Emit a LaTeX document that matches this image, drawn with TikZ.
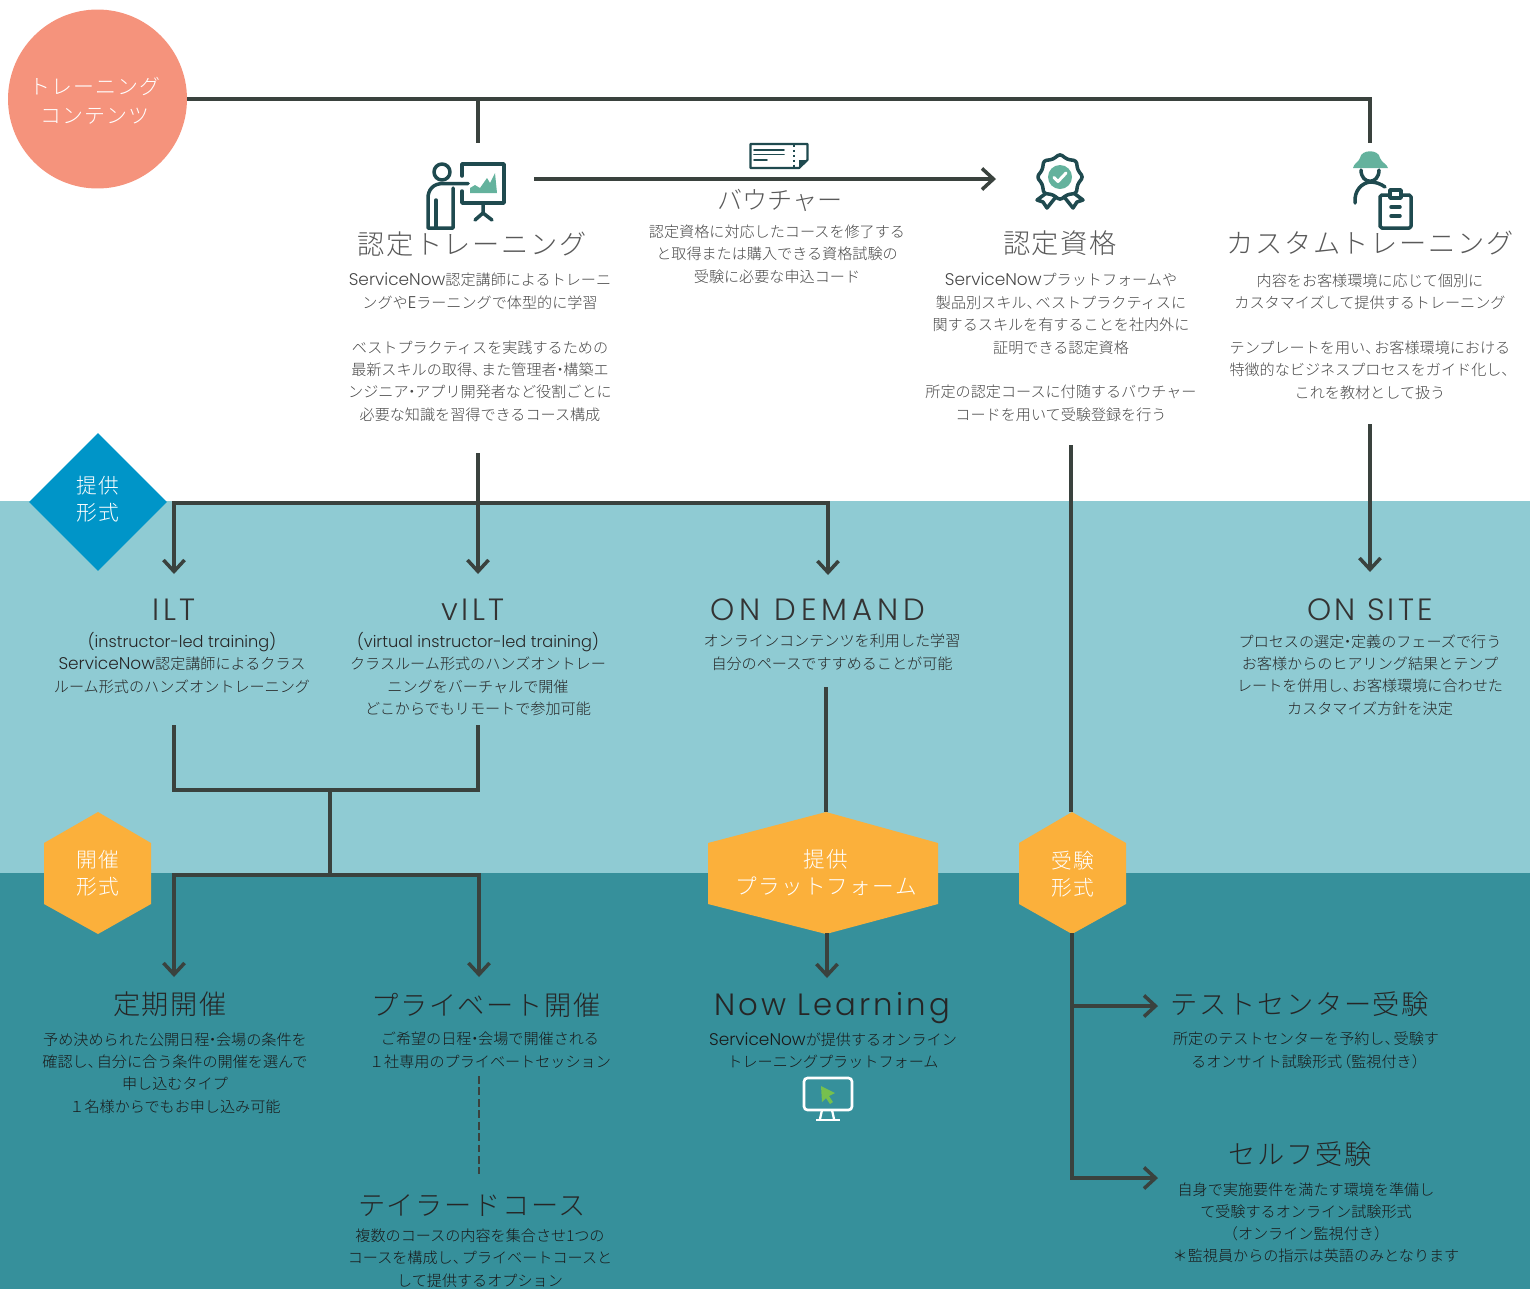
\documentclass[tikz,border=0pt]{standalone}
\usepackage{fontspec}
\setmainfont{Noto Sans CJK JP Light}
\newfontfamily\cjkspaced[LetterSpace=6]{Noto Sans CJK JP Light}
\newfontfamily\ltn[Scale=1.12]{Poppins Light}
\newfontfamily\ltnsmall[Scale=1.07]{Poppins Light}
\newfontfamily\ltntitle[LetterSpace=10]{Poppins Light}
\newfontfamily\ltnwide[LetterSpace=16.6]{Poppins Light}
\newcommand\ten{、\kern-.4em}
\newcommand\naka{\kern-.28em・\kern-.28em}
\newcommand\ptopen{\kern-.4em（}
\newcommand\ptclose{）\kern-.4em}
\usetikzlibrary{arrows.meta,shapes.geometric}
\definecolor{bandlight}{HTML}{8FCBD3}
\definecolor{banddark}{HTML}{36909B}
\definecolor{flowline}{HTML}{3A423E}
\definecolor{salmon}{HTML}{F5937C}
\definecolor{bluemark}{HTML}{0095C8}
\definecolor{orangemark}{HTML}{FBB03B}
\definecolor{icondark}{HTML}{1F4A4F}
\definecolor{icongreen}{HTML}{64B29D}
\definecolor{cursorgreen}{HTML}{76C04E}
\tikzset{
  flow/.style={draw=flowline,line width=2pt},
  flowarrow/.style={flow,-{Straight Barb[length=6.5pt,width=12pt,line width=2pt]}},
  title/.style={font=\cjkspaced\fontsize{15.5}{18}\selectfont,text=#1,inner sep=0pt},
  latintitle/.style={font=\ltntitle\fontsize{17.5}{20}\selectfont,text=#1,inner sep=0pt},
  widetitle/.style={font=\ltnwide\fontsize{17.5}{20}\selectfont,text=#1,inner sep=0pt},
  body/.style={font=\fontsize{8.6}{12.75}\selectfont,text=#1,align=center,inner sep=0pt,yshift=-.5pt},
  marktext/.style={font=\cjkspaced\fontsize{11.8}{15.5}\selectfont,text=white,align=center,inner sep=0pt},
  icon/.style={draw=icondark,line width=2pt,line cap=round,line join=round},
}
\begin{document}
\begin{tikzpicture}[x=0.02cm,y=-0.02cm]
\useasboundingbox (0,0) rectangle (1530,1289);
\fill[bandlight] (0,501) rectangle (1530,873);
\fill[banddark] (0,873) rectangle (1530,1289);

% round and diamond marks
\node[circle,fill=salmon,minimum size=3.58cm,inner sep=0pt] (contents) at (97.5,99) {};
\node[marktext,font=\cjkspaced\fontsize{11.9}{16.5}\selectfont] (contentslabel) at (95,101) {トレーニング\\コンテンツ};
\node[diamond,fill=bluemark,minimum width=2.76cm,minimum height=2.76cm,inner sep=0pt] (teikyo) at (98,502) {};
\node[marktext] (teikyolabel) at (98,499) {提供\\形式};

% hexagons
\fill[orangemark] (98,812) -- (151,843) -- (151,904) -- (98,934) -- (44,904) -- (44,843) -- cycle;
\fill[orangemark] (826,812) -- (938,843) -- (938,904) -- (826,934) -- (708,904) -- (708,843) -- cycle;
\fill[orangemark] (1072,812) -- (1126,843) -- (1126,904) -- (1072,934) -- (1019,904) -- (1019,843) -- cycle;
\node[marktext] (kaisai) at (98,873) {開催\\形式};
\node[marktext,font=\cjkspaced\fontsize{12.3}{15.5}\selectfont] (platform) at (826,872.5) {提供\\プラットフォーム};
\node[marktext] (juken) at (1073,874) {受験\\形式};

% top titles and texts
\node[title=black!65] (nintei) at (472,244) {認定トレーニング};
\node[body=black!72] (ninteitext) at (480,346.5) {{\ltn ServiceNow}認定講師によるトレーニ\\ングや{\ltn E}ラーニングで体型的に学習\\~\\ベストプラクティスを実践するための\\最新スキルの取得\ten また管理者\naka 構築エ\\ンジニア\naka アプリ開発者など役割ごとに\\必要な知識を習得できるコース構成};
\node[title=black!65,font=\fontsize{14.3}{18}\selectfont] (voucher) at (780,200) {バウチャー};
\node[body=black!72] (vouchertext) at (777,253) {認定資格に対応したコースを修了する\\と取得または購入できる資格試験の\\受験に必要な申込コード};
\node[title=black!65] (shikaku) at (1060,243) {認定資格};
\node[body=black!72] (shikakutext) at (1061,346.5) {{\ltn ServiceNow}プラットフォームや\\製品別スキル\ten ベストプラクティスに\\関するスキルを有することを社内外に\\証明できる認定資格\\~\\所定の認定コースに付随するバウチャー\\コードを用いて受験登録を行う};
\node[title=black!65] (custom) at (1370,243) {カスタムトレーニング};
\node[body=black!72] (customtext) at (1370,335.5) {内容をお客様環境に応じて個別に\\カスタマイズして提供するトレーニング\\~\\テンプレートを用い\ten お客様環境における\\特徴的なビジネスプロセスをガイド化し\ten\\これを教材として扱う};

% delivery row
\node[latintitle=black!80] (ilt) at (174,610) {ILT};
\node[body=black!85] (ilttext) at (182,662) {{\ltnsmall (instructor-led training)}\\{\ltn ServiceNow}認定講師によるクラス\\ルーム形式のハンズオントレーニング};
\node[latintitle=black!80] (vilt) at (473,610) {vILT};
\node[body=black!85] (vilttext) at (478,673) {{\ltnsmall (virtual instructor-led training)}\\クラスルーム形式のハンズオントレー\\ニングをバーチャルで開催\\どこからでもリモートで参加可能};
\node[widetitle=black!80] (demand) at (818,610) {ON DEMAND};
\node[body=black!85] (demandtext) at (832,651.5) {オンラインコンテンツを利用した学習\\自分のペースですすめることが可能};
\node[latintitle=black!80] (site) at (1370,610) {ON SITE};
\node[body=black!85] (sitetext) at (1370,674) {プロセスの選定\naka 定義のフェーズで行う\\お客様からのヒアリング結果とテンプ\\レートを併用し\ten お客様環境に合わせた\\カスタマイズ方針を決定};

% lower row
\node[title=black!85] (teiki) at (170,1004) {定期開催};
\node[body=black!90] (teikitext) at (175,1072) {予め決められた公開日程\naka 会場の条件を\\確認し\ten 自分に合う条件の開催を選んで\\申し込むタイプ\\１名様からでもお申し込み可能};
\node[title=black!85] (private) at (486,1005) {プライベート開催};
\node[body=black!90] (privatetext) at (490,1049.5) {ご希望の日程\naka 会場で開催される\\１社専用のプライベートセッション};
\node[title=black!85] (tailor) at (472,1206) {テイラードコース};
\node[body=black!90] (tailortext) at (480,1257) {複数のコースの内容を集合させ1つの\\コースを構成し\ten プライベートコースと\\して提供するオプション};
\node[latintitle=black!85] (nowlearn) at (832,1008) {Now Learning};
\node[body=black!90] (nowlearntext) at (833,1049.5) {{\ltn ServiceNow}が提供するオンライン\\トレーニングプラットフォーム};
\node[title=black!85] (testcenter) at (1300,1004) {テストセンター受験};
\node[body=black!90] (testcentertext) at (1306,1049.5) {所定のテストセンターを予約し\ten 受験す\\るオンサイト試験形式\ptopen 監視付き\ptclose};
\node[title=black!85] (self) at (1300,1154) {セルフ受験};
\node[body=black!90] (selftext) at (1306,1211) {自身で実施要件を満たす環境を準備し\\て受験するオンライン試験形式\\（オンライン監視付き）};
\node[body=black!90] (selfnote) at (1316,1255) {＊監視員からの指示は英語のみとなります};

% free ends of the lines
\coordinate (toptee) at (478,99);
\coordinate (topright) at (1370,99);
\coordinate (ninteitop) at (478,143);
\coordinate (customtop) at (1370,143);
\coordinate (voucherfrom) at (534,179);
\coordinate (voucherto) at (996,179);
\coordinate (ninteifrom) at (478,453);
\coordinate (vilthead) at (478,574);
\coordinate (ilttee) at (174,503);
\coordinate (demandturn) at (828,503);
\coordinate (ilthead) at (174,574);
\coordinate (demandhead) at (828,575);
\coordinate (shikakufrom) at (1071,445);
\coordinate (jukentop) at (1071,812);
\coordinate (customfrom) at (1370,424);
\coordinate (sitehead) at (1370,572);
\coordinate (iltfrom) at (174,725);
\coordinate (iltturn) at (174,790);
\coordinate (viltturn) at (478,790);
\coordinate (viltfrom) at (478,725);
\coordinate (joinup) at (330,790);
\coordinate (joindown) at (330,875);
\coordinate (teikiturn) at (174,875);
\coordinate (privateturn) at (479,875);
\coordinate (teikihead) at (174,977);
\coordinate (privatehead) at (479,977);
\coordinate (dashfrom) at (479,1076);
\coordinate (dashto) at (479,1174);
\coordinate (demandfrom) at (826,687);
\coordinate (platformtop) at (826,812);
\coordinate (platformfrom) at (827,933);
\coordinate (nowhead) at (827,978);
\coordinate (jukenfrom) at (1072,933);
\coordinate (jukentee) at (1072,1006);
\coordinate (jukenturn) at (1072,1178);
\coordinate (testhead) at (1158,1006);
\coordinate (selfhead) at (1158,1178);

\draw[flow] (contents.east |- toptee) -- (topright) -- (customtop);
\draw[flow] (toptee) -- (ninteitop);
\draw[flowarrow] (voucherfrom) -- (voucherto);
\draw[flowarrow] (ninteifrom) -- (vilthead);
\draw[flowarrow,line cap=rect] (ilttee) -- (demandturn) -- (demandhead);
\draw[flowarrow] (ilttee) -- (ilthead);
\draw[flow] (shikakufrom) -- (jukentop);
\draw[flowarrow] (customfrom) -- (sitehead);
\draw[flow] (iltfrom) -- (iltturn) -- (viltturn) -- (viltfrom);
\draw[flow] (joinup) -- (joindown);
\draw[flowarrow] (teikiturn) -- (teikihead);
\draw[flowarrow,line cap=rect] (teikiturn) -- (privateturn) -- (privatehead);
\draw[flow,line width=1.4pt,dash pattern=on 4.5pt off 2pt] (dashfrom) -- (dashto);
\draw[flow] (demandfrom) -- (platformtop);
\draw[flowarrow] (platformfrom) -- (nowhead);
\draw[flowarrow] (jukenfrom) -- (jukenturn) -- (selfhead);
\draw[flowarrow] (jukentee) -- (testhead);

% trainer icon
\fill[icongreen] (470,188) -- (475,185) -- (480,188) -- (487,178) -- (490,183) -- (495,173) -- (497,193) -- (470,193) -- cycle;
\draw[icon] (462,176) -- (462,164) -- (504,164) -- (504,203) -- (462,203) -- (462,191);
\draw[icon] (442,172) circle (8);
\draw[icon] (468,183.5) -- (443,183.5) .. controls (433,183.5) and (428,190) .. (428,198) -- (428,228) -- (453,228) -- (453,188);
\draw[icon] (436,200) -- (436,228);
\draw[icon] (483,203) -- (483,213) -- (475,220);
\draw[icon] (483,213) -- (492,220);

% ticket icon
\draw[icon,line width=1.2pt] (750.5,144) -- (807.5,144) -- (807.5,160) -- (799,168) -- (750.5,168) -- cycle;
\fill[icondark] (807.5,160) -- (799,168) -- (799,160) -- cycle;
\draw[icon,line width=1pt] (754,150) -- (784,150);
\draw[icon,line width=1pt] (754,154.5) -- (784,154.5);
\draw[icon,line width=1pt] (754,160) -- (767,160);
\draw[icon,line width=1pt,line cap=butt,dash pattern=on 1.4pt off 1.4pt] (794,145) -- (794,167);

% badge icon
\draw[icon,rounded corners=1.5pt] (1060,154) -- (1067.3,159.4) -- (1076.3,160.7) -- (1077.6,169.7) -- (1083,177) -- (1077.6,184.3) -- (1076.3,193.3) -- (1067.3,194.6) -- (1060,200) -- (1052.7,194.6) -- (1043.7,193.3) -- (1042.4,184.3) -- (1037,177) -- (1042.4,169.7) -- (1043.7,160.7) -- (1052.7,159.4) -- cycle;
\fill[icongreen] (1060,177) circle (12);
\draw[white,line width=1.7pt,line cap=round,line join=round] (1054,177.5) -- (1058,181.5) -- (1066,173);
\draw[icon] (1045,194) -- (1037,200) -- (1043,202) -- (1047,208) -- (1055,198);
\draw[icon] (1075,194) -- (1083,200) -- (1077,202) -- (1073,208) -- (1065,198);

% consultant icon
\fill[icongreen] (1353,168) .. controls (1354,163) and (1358,163) .. (1360,158) .. controls (1361,149) and (1379,149) .. (1380,158) .. controls (1382,163) and (1387,164) .. (1388,168) -- cycle;
\draw[icon] (1361,170) .. controls (1361,185) and (1379,185) .. (1379,170);
\draw[icon] (1355,203) .. controls (1354,190) and (1362,183) .. (1370,182) .. controls (1376,182) and (1381,184) .. (1385,187);
\draw[icon,rounded corners=1pt] (1380,195) rectangle (1411,228);
\draw[icon,fill=white] (1390,190) rectangle (1401,198);
\draw[icon] (1391,207) -- (1400,207);
\draw[icon] (1391,216) -- (1400,216);

% screen icon
\draw[white,line width=1.5pt,rounded corners=2] (804,1078) rectangle (852,1110);
\draw[white,line width=1.3pt] (822,1110) -- (820,1119);
\draw[white,line width=1.3pt] (832,1110) -- (834,1119);
\draw[white,line width=1.5pt] (816,1120) -- (840,1120);
\fill[cursorgreen] (821,1086) -- (835,1093) -- (829,1096) -- (833,1102) -- (830,1104) -- (826,1098) -- (822,1102) -- cycle;
\end{tikzpicture}
\end{document}
